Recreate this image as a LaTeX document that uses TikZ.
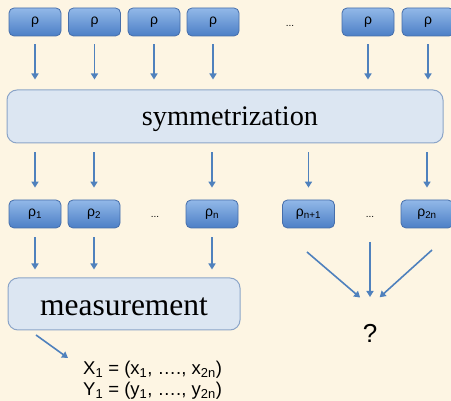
\documentclass[tikz,border=0pt]{standalone}
\usepackage{fontspec}
\setmainfont{Liberation Serif}
\newfontfamily\labelfont{Liberation Sans}
\usetikzlibrary{arrows.meta}

\definecolor{paper}{RGB}{253,245,227}
\definecolor{qtop}{RGB}{146,184,232}
\definecolor{qbot}{RGB}{76,127,198}
\definecolor{qedge}{RGB}{70,110,170}
\definecolor{panel}{RGB}{220,230,242}
\definecolor{paneledge}{RGB}{140,165,200}
\definecolor{arrowblue}{RGB}{79,129,189}

\tikzset{
	state/.style = {draw=qedge, line width=0.8pt, rounded corners=5pt,
		top color=qtop, bottom color=qbot, minimum width=52pt, minimum height=28pt,
		inner sep=0pt, font=\labelfont\fontsize{14}{16}\selectfont},
	stage/.style = {draw=paneledge, line width=1pt, fill=panel, rounded corners=10pt,
		inner sep=0pt},
	gap/.style = {font=\labelfont\fontsize{10}{12}\selectfont},
	flow/.style = {draw=arrowblue, line width=1.6pt,
		-{Triangle[width=7pt,length=6pt]}}
}

\begin{document}
\begin{tikzpicture}[x=1pt,y=-1pt]
	\useasboundingbox (0,0) rectangle (451,401);
	\fill[paper] (0,0) rectangle (451,401);
	\clip (0,0) rectangle (451,401);

	% copies of the state
	\node[state] (t1) at (35,22) {ρ};
	\node[state] (t2) at (94.5,22) {ρ};
	\node[state] (t3) at (154,22) {ρ};
	\node[state] (t4) at (213,22) {ρ};
	\node[gap] (d0) at (290,26) {...};
	\node[state] (t5) at (368,22) {ρ};
	\node[state] (t6) at (428,22) {ρ};

	\node[stage, minimum width=436pt, minimum height=53pt] (sym) at (225,116.5) {};
	\node[font=\fontsize{28.3}{30}\selectfont] (symtext) at (230,119) {symmetrization};

	% after symmetrization
	\node[state] (b1) at (35,214) {ρ\textsubscript{1}};
	\node[state] (b2) at (94,214) {ρ\textsubscript{2}};
	\node[gap] (d1) at (155,217) {...};
	\node[state] (b3) at (212,214) {ρ\textsubscript{n}};
	\node[state] (b4) at (308.5,214) {ρ\textsubscript{n+1}};
	\node[gap] (d2) at (370,217) {...};
	\node[state] (b5) at (427,214) {ρ\textsubscript{2n}};

	\node[stage, minimum width=232pt, minimum height=52pt] (meas) at (124,304) {};
	\node[font=\fontsize{31.5}{33}\selectfont] (meastext) at (124,307) {measurement};

	\node[font=\labelfont\fontsize{26}{28}\selectfont] (q) at (370,333) {?};

	\node[anchor=north west, align=left, inner sep=0pt,
		font=\labelfont\fontsize{18.5}{21}\selectfont] (res) at (83,361)
		{X\textsubscript{1} = (x\textsubscript{1}, …., x\textsubscript{2n})\\
		 Y\textsubscript{1} = (y\textsubscript{1}, …., y\textsubscript{2n})};

	\coordinate (cl) at (307,252);
	\coordinate (cm) at (370,242);
	\coordinate (cr) at (432,250);
	\coordinate (conv) at (370,306);
	\coordinate (mo) at (36,335);
	\coordinate (mt) at (68,358);

	% arrows
	\foreach \n in {t1,t2,t3,t4,t5,t6}
		\draw[flow, shorten <=8pt, shorten >=10pt] (\n.south) -- (\n.south |- sym.north);
	\foreach \n in {b1,b2,b3,b4,b5}
		\draw[flow, shorten <=9pt, shorten >=12pt] (sym.south -| \n.north) -- (\n.north);
	\foreach \n in {b1,b2,b3}
		\draw[flow, shorten <=9pt, shorten >=8pt] (\n.south) -- (\n.south |- meas.north);
	\draw[flow, shorten >=13pt] (cl) -- (conv);
	\draw[flow, shorten >=9pt] (cm) -- (conv);
	\draw[flow, shorten >=13pt] (cr) -- (conv);
	\draw[flow] (mo) -- (mt);
\end{tikzpicture}
\end{document}
